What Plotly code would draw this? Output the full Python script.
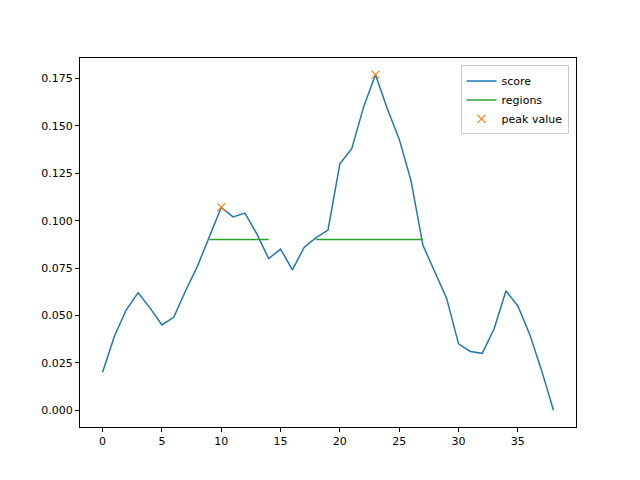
import plotly.graph_objects as go

x = list(range(39))
score = [0.020, 0.039, 0.053, 0.062, 0.054, 0.045, 0.049, 0.063, 0.076, 0.091,
         0.107, 0.102, 0.104, 0.093, 0.080, 0.085, 0.074, 0.086, 0.091, 0.095,
         0.130, 0.138, 0.160, 0.177, 0.159, 0.143, 0.121, 0.087, 0.073, 0.059,
         0.035, 0.031, 0.030, 0.043, 0.063, 0.055, 0.040, 0.021, 0.000]
region_x = [9, 14, None, 18, 27]
region_y = [0.090, 0.090, None, 0.090, 0.090]
peak_x = [10, 23]
peak_y = [0.107, 0.177]

fig = go.Figure()
fig.add_trace(go.Scatter(x=x, y=score, mode="lines", name="score",
                         line=dict(color="#1f77b4", width=1.5)))
fig.add_trace(go.Scatter(x=region_x, y=region_y, mode="lines", name="regions",
                         line=dict(color="#2ca02c", width=1.5), connectgaps=False))
fig.add_trace(go.Scatter(x=peak_x, y=peak_y, mode="markers", name="peak value",
                         marker=dict(symbol="x-thin", size=8, color="#ff7f0e",
                                     line=dict(color="#ff7f0e", width=1.2))))

axis = dict(showgrid=False, zeroline=False, showline=True, linecolor="black",
            linewidth=1, mirror=True, ticks="outside", ticklen=4,
            tickcolor="black", tickfont=dict(size=11, color="black"))
fig.update_layout(
    width=640, height=480, paper_bgcolor="white", plot_bgcolor="white",
    margin=dict(l=72, r=72, t=50, b=61),
    font=dict(family="DejaVu Sans", size=11, color="black"),
    xaxis=dict(range=[-1.9, 39.9], tickvals=[0, 5, 10, 15, 20, 25, 30, 35], **axis),
    yaxis=dict(range=[-0.00885, 0.1858], tickformat=".3f",
               tickvals=[0, 0.025, 0.05, 0.075, 0.1, 0.125, 0.15, 0.175], **axis),
    legend=dict(x=0.985, y=0.98, xanchor="right", yanchor="top",
                bordercolor="#cccccc", borderwidth=1, bgcolor="white",
                font=dict(size=11)),
)
fig.write_html("out.html")
